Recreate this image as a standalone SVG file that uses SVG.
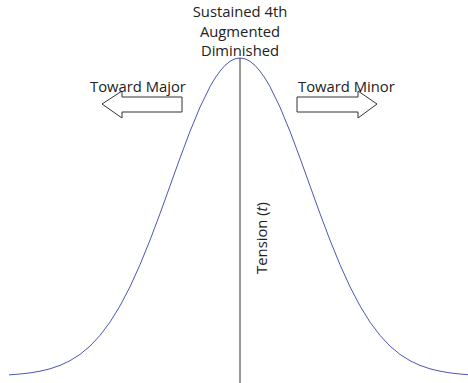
<svg xmlns="http://www.w3.org/2000/svg" width="468" height="383" viewBox="0 0 468 383">
<style>
text{font-family:"Open Sans","Noto Sans","Liberation Sans",sans-serif;font-size:14.8px;fill:#222}
.c{text-anchor:middle}
.arrow{fill:#fff;stroke:#333;stroke-width:1}
</style>
<rect width="468" height="383" fill="#fff"/>
<g id="connectors">
<polyline id="curve" fill="none" stroke="#4b56b4" stroke-width="1" points="9,374.8 10,374.8 20,374 30,372.9 40,371.2 50,368.8 60,365.4 70,360.7 80,354.4 90,346.1 100,335.4 110,322.1 120,305.9 130,286.8 140,264.7 150,240.2 160,213.6 170,185.9 180,158.1 190,131.4 200,107.2 210,86.7 215,78.2 220,71.1 225,65.4 230,61.3 235,58.8 240,58 245,58.8 250,61.3 255,65.4 260,71.1 265,78.2 270,86.7 280,107.2 290,131.4 300,158.1 310,185.9 320,213.6 330,240.2 340,264.7 350,286.8 360,305.9 370,322.1 380,335.4 390,346.1 400,354.4 410,360.7 420,365.4 430,368.8 440,371.2 450,372.9 460,374 468,374.7"/>
<line id="axis" x1="240" y1="58" x2="240" y2="383" stroke="#333" stroke-width="1"/>
</g>
<g id="top-label">
<text class="c" x="240" y="17">Sustained 4th</text>
<text class="c" x="240" y="37">Augmented</text>
<text class="c" x="240" y="56">Diminished</text>
</g>
<g id="toward-major">
<polygon class="arrow" points="102,104 122,91 122,97 182,97 182,112 122,112 122,118"/>
<text x="90" y="92">Toward Major</text>
</g>
<g id="toward-minor">
<polygon class="arrow" points="297,97 358,97 358,91 377,104 358,118 358,112 297,112"/>
<text x="298" y="92">Toward Minor</text>
</g>
<g id="tension">
<text transform="translate(267,238) rotate(-90)" class="c">Tension (<tspan font-style="italic">t</tspan>)</text>
</g>
</svg>
